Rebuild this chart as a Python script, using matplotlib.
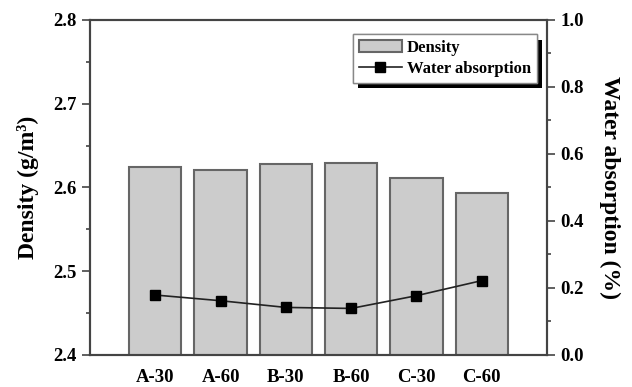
import numpy as np
import matplotlib
matplotlib.use('Agg')
from matplotlib import pyplot as plt
from matplotlib import patheffects
from matplotlib.ticker import MultipleLocator

plt.rcParams['font.family'] = 'Liberation Serif'
plt.rcParams['font.weight'] = 'bold'

samples = ['A-30', 'A-60', 'B-30', 'B-60', 'C-30', 'C-60']
density = [2.624, 2.621, 2.628, 2.629, 2.611, 2.594]
water_absorption = [0.179, 0.162, 0.142, 0.139, 0.177, 0.222]

x = np.arange(1, len(samples) + 1)
spine_col = '#444444'

fig = plt.figure(figsize=(6.32, 3.87), dpi=100)
ax = fig.add_axes([0.1424, 0.0827, 0.7231, 0.8657])
ax2 = ax.twinx()

bars = ax.bar(x, density, width=0.8, color='#cccccc', edgecolor='#666666',
              linewidth=1.5, label='Density', zorder=2)
ax.set_ylim(2.4, 2.8)
ax.set_xlim(0, 7)
ax.set_xticks(x)
ax.set_xticklabels(samples)
ax.yaxis.set_major_locator(MultipleLocator(0.1))
ax.yaxis.set_minor_locator(MultipleLocator(0.05))
ax.tick_params(axis='x', length=0, labelsize=13.5, pad=10)
ax.tick_params(axis='y', which='major', direction='out', length=6, width=1.2,
               color=spine_col, labelsize=13.5)
ax.tick_params(axis='y', which='minor', direction='out', length=3, width=1.2,
               color=spine_col)
ax.set_ylabel('Density (g/m\u00b3)', fontsize=17, fontweight='bold', labelpad=10)

line, = ax2.plot(x, water_absorption, color='#222222', linewidth=1.2,
                 marker='s', markersize=7, markerfacecolor='black',
                 markeredgecolor='black', label='Water absorption', zorder=3)
ax2.set_ylim(0, 1.0)
ax2.yaxis.set_major_locator(MultipleLocator(0.2))
ax2.yaxis.set_minor_locator(MultipleLocator(0.1))
ax2.tick_params(axis='y', which='major', direction='out', length=6, width=1.2,
                color=spine_col, labelsize=13.5)
ax2.tick_params(axis='y', which='minor', direction='out', length=3, width=1.2,
                color=spine_col)
ax2.set_ylabel('Water absorption (%)', fontsize=17, fontweight='bold',
               rotation=270, labelpad=26)

for a in (ax, ax2):
    for s in a.spines.values():
        s.set_color(spine_col)
        s.set_linewidth(1.5)

leg = ax2.legend([bars, line], ['Density', 'Water absorption'],
                 loc='upper right', bbox_to_anchor=(0.978, 0.958),
                 fancybox=False, framealpha=1, edgecolor='#888888',
                 prop={'size': 12, 'weight': 'bold'},
                 handlelength=2.6, borderpad=0.35, labelspacing=0.3,
                 handletextpad=0.3, borderaxespad=0)
leg.get_frame().set_linewidth(1.0)
leg.get_frame().set_path_effects([
    patheffects.withSimplePatchShadow(offset=(4, -4), shadow_rgbFace='black', alpha=1),
    patheffects.Normal()])

fig.savefig('out.png', dpi=100)
